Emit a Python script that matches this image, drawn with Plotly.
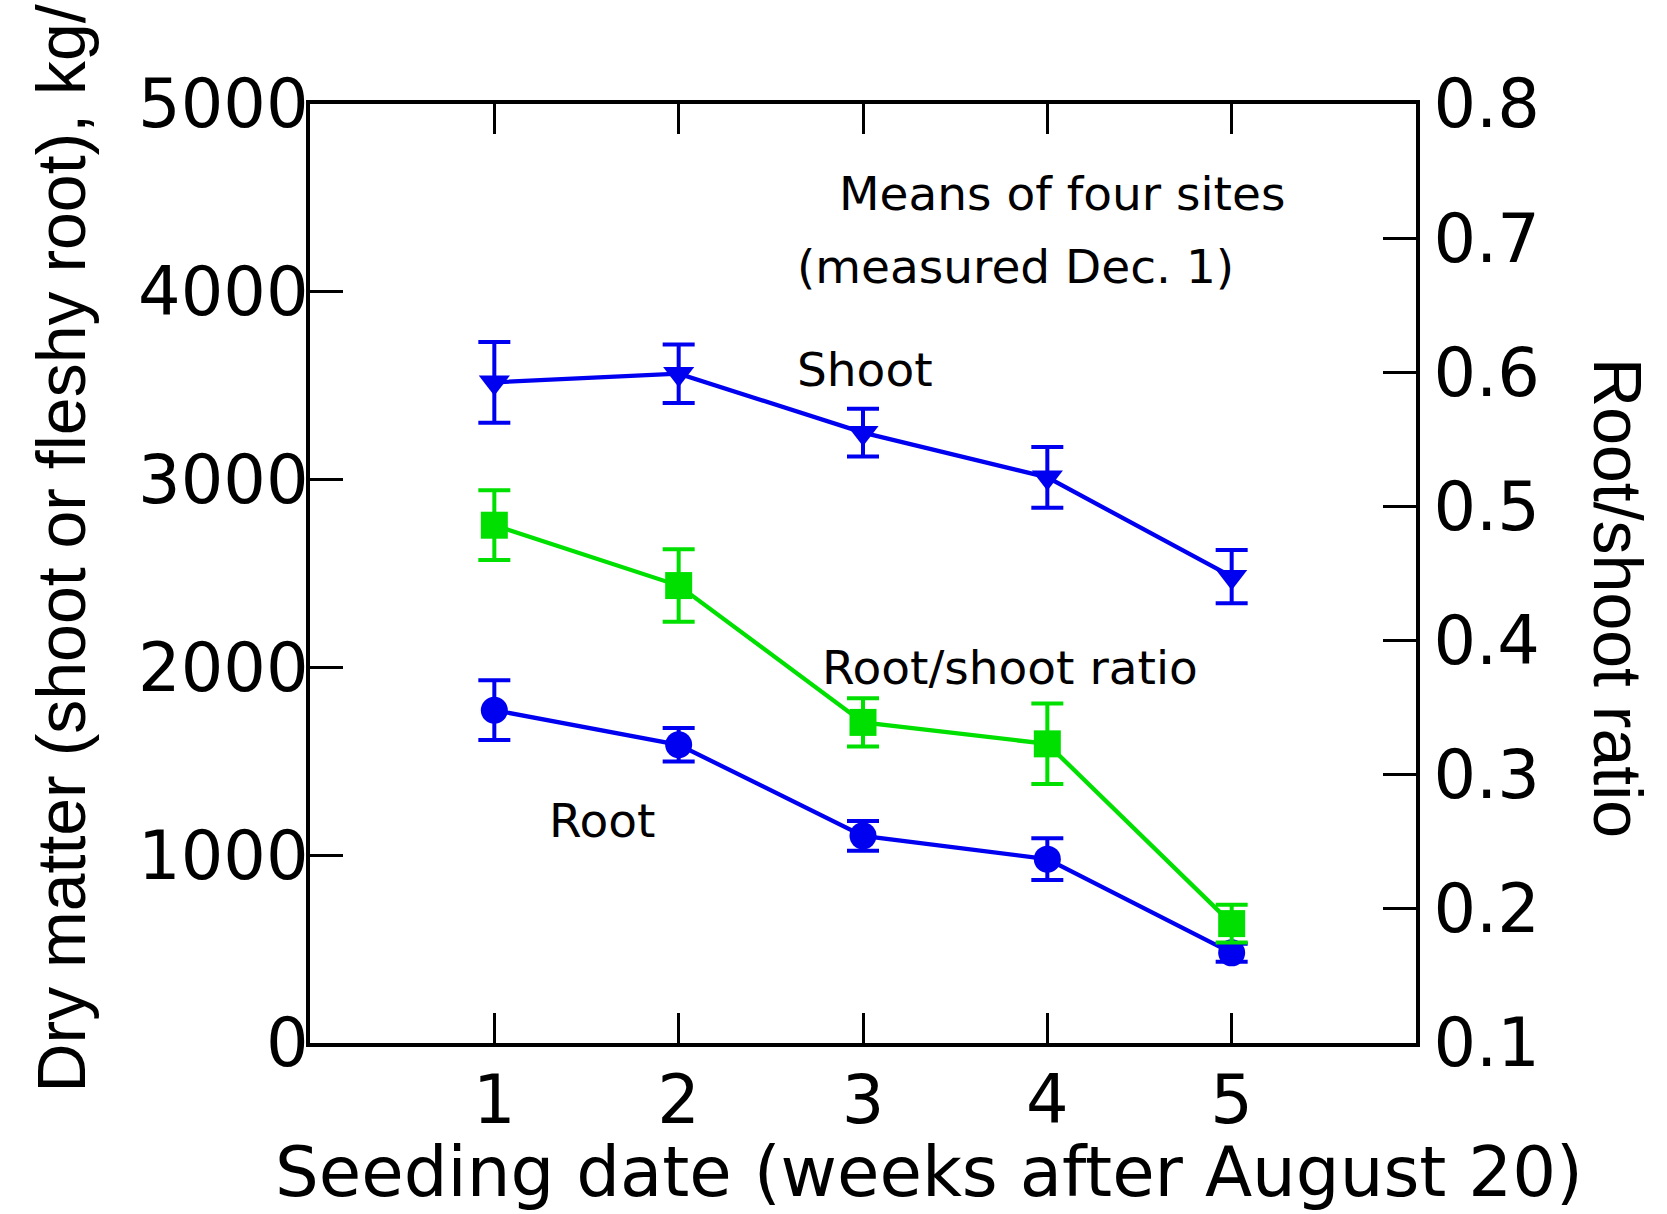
import plotly.graph_objects as go

# Seeding date (weeks after August 20)
weeks = [1, 2, 3, 4, 5]

# Dry matter, kg/ha (left axis)
shoot = [3518, 3564, 3250, 3012, 2483]
shoot_err = [215, 156, 127, 162, 142]
root = [1772, 1588, 1103, 979, 480]
root_err = [159, 89, 79, 111, 48]

# Root/shoot ratio (right axis)
ratio = [0.486, 0.441, 0.339, 0.323, 0.189]
ratio_err = [0.026, 0.027, 0.018, 0.030, 0.014]

x_ticks = [1, 2, 3, 4, 5]
y_ticks = [0, 1000, 2000, 3000, 4000, 5000]
y2_ticks = [0.1, 0.2, 0.3, 0.4, 0.5, 0.6, 0.7, 0.8]

BLUE = "#0000F0"
GREEN = "#00E000"
TICK_FONT = dict(family="DejaVu Sans", size=67, color="black")
TITLE_FONT = dict(family="Liberation Sans Narrow, Liberation Sans, Arial", size=68, color="black")
NOTE_FONT = dict(family="DejaVu Sans", size=47, color="black")


def series(y, err, symbol, color, axis):
    return go.Scatter(
        x=weeks, y=y, yaxis=axis, mode="lines+markers",
        line=dict(color=color, width=4.3),
        marker=dict(symbol=symbol, size=27, color=color, line=dict(width=0)),
        error_y=dict(type="data", array=err, visible=True,
                     color=color, thickness=4, width=16),
        showlegend=False, hoverinfo="skip",
    )


fig = go.Figure()
fig.add_trace(series(root, root_err, "circle", BLUE, "y"))
fig.add_trace(series(shoot, shoot_err, "triangle-down", BLUE, "y"))
fig.add_trace(series(ratio, ratio_err, "square", GREEN, "y2"))

axis_common = dict(showgrid=False, zeroline=False, showline=True,
                   linecolor="black", linewidth=4, ticks="inside",
                   tickcolor="black", tickwidth=3, tickfont=TICK_FONT)

fig.update_layout(
    width=1667, height=1214,
    margin=dict(l=310, r=251, t=104, b=171),
    plot_bgcolor="white", paper_bgcolor="white",
    xaxis=dict(range=[0, 6], tickvals=x_ticks, ticklen=30, mirror="ticks",
               ticklabelstandoff=-4, **axis_common),
    yaxis=dict(range=[0, 5000], tickvals=y_ticks, ticklen=33,
               ticklabelstandoff=-16, **axis_common),
    yaxis2=dict(range=[0.1, 0.8], tickvals=y2_ticks, tickformat=".1f",
                ticklen=33, overlaying="y", side="right",
                ticklabelstandoff=0, **axis_common),
    annotations=[
        dict(text="Means of four sites", x=4.079, y=4526, xref="x", yref="y",
             showarrow=False, font=NOTE_FONT),
        dict(text="(measured Dec. 1)", x=3.829, y=4137, xref="x", yref="y",
             showarrow=False, font=NOTE_FONT),
        dict(text="Shoot", x=3.011, y=3584, xref="x", yref="y",
             showarrow=False, font=NOTE_FONT),
        dict(text="Root/shoot ratio", x=3.797, y=2002, xref="x", yref="y",
             showarrow=False, font=NOTE_FONT),
        dict(text="Root", x=1.585, y=1187, xref="x", yref="y",
             showarrow=False, font=NOTE_FONT),
        # axis titles
        dict(text="Seeding date (weeks after August 20)", x=0.56, y=-0.137,
             xref="paper", yref="paper", xanchor="center", yanchor="middle",
             showarrow=False, font=dict(family="DejaVu Sans", size=69, color="black")),
        dict(text="Dry matter (shoot or fleshy root), kg/ha", textangle=-90,
             x=-0.2255, y=-0.0554, xref="paper", yref="paper",
             xanchor="center", yanchor="bottom", showarrow=False, font=TITLE_FONT),
        dict(text="Root/shoot ratio", textangle=90, x=1.1825, y=0.474,
             xref="paper", yref="paper", xanchor="center", yanchor="middle",
             showarrow=False, font=TITLE_FONT),
    ],
)

fig.write_html("out.html")
